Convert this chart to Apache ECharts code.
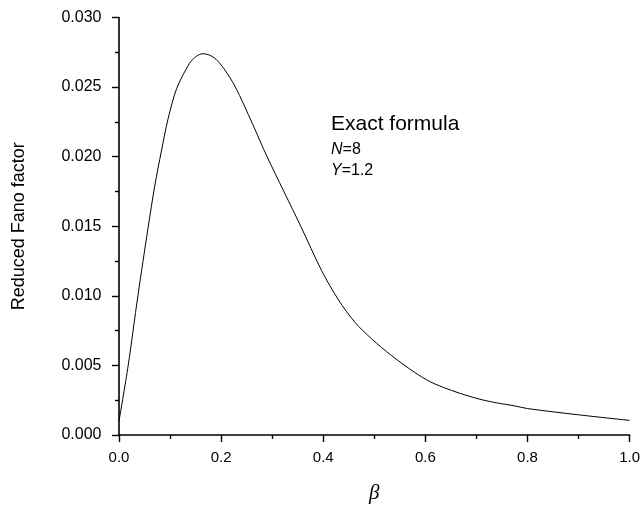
<!DOCTYPE html>
<html style="height: 100%">
<head>
    <meta charset="utf-8">
    <title>Reduced Fano factor</title>
    <script type="text/javascript" src="https://cdn.jsdelivr.net/npm/echarts@6/dist/echarts.min.js"></script>
</head>
<body style="height: 100%; margin: 0; background: #fff;">
<div id="container" style="width: 643px; height: 509px;"></div>
<script type="text/javascript">
    // beta values
    var betaData = [0, 0.018, 0.037, 0.057, 0.07, 0.083, 0.096, 0.113, 0.138, 0.151, 0.164, 0.177, 0.19,
        0.206, 0.228, 0.261, 0.290, 0.356, 0.397, 0.43, 0.462, 0.495, 0.534, 0.579, 0.611,
        0.644, 0.676, 0.709, 0.741, 0.774, 0.8, 0.9, 1.0];
    // reduced Fano factor at each beta
    var fanoData = [0.0010, 0.0050, 0.0100, 0.0149, 0.0179, 0.0204, 0.0227, 0.0249, 0.0267, 0.0272, 0.0274, 0.0273, 0.0270,
        0.0263, 0.0250, 0.0224, 0.0200, 0.0150, 0.0118, 0.0097, 0.0081, 0.0069, 0.0057, 0.0045, 0.0038,
        0.0033, 0.0029, 0.00255, 0.0023, 0.0021, 0.0019, 0.00145, 0.00105];
    var xTicks = [0, 0.2, 0.4, 0.6, 0.8, 1.0];
    var yTicks = [0, 0.005, 0.010, 0.015, 0.020, 0.025, 0.030];

    var points = [];
    for (var i = 0; i < betaData.length; i++) {
        points.push([betaData[i], fanoData[i]]);
    }

    var font = 'Liberation Sans, Arial, sans-serif';
    var myChart = echarts.init(document.getElementById('container'), null, {renderer: 'canvas'});
    var option = {
        animation: false,
        backgroundColor: '#fff',
        grid: {left: 119, right: 10, top: 17.5, bottom: 71},
        xAxis: {
            type: 'value',
            min: xTicks[0],
            max: xTicks[xTicks.length - 1],
            interval: 0.2,
            name: 'β',
            nameLocation: 'middle',
            nameGap: 48,
            nameTextStyle: {fontFamily: 'Liberation Serif', fontStyle: 'italic', fontSize: 21, color: '#000'},
            axisLine: {lineStyle: {color: '#000', width: 1.6}},
            axisTick: {length: 7, lineStyle: {color: '#000', width: 1.4}},
            minorTick: {show: true, splitNumber: 2, length: 4, lineStyle: {color: '#000', width: 1.4}},
            axisLabel: {
                margin: 15, fontSize: 15, fontFamily: font, color: '#000',
                formatter: function (v) { return v.toFixed(1); }
            },
            splitLine: {show: false}
        },
        yAxis: {
            type: 'value',
            min: yTicks[0],
            max: yTicks[yTicks.length - 1],
            interval: 0.005,
            offset: 4.5,
            name: 'Reduced Fano factor',
            nameLocation: 'middle',
            nameGap: 86,
            nameTextStyle: {fontFamily: font, fontSize: 18, color: '#000'},
            axisLine: {lineStyle: {color: '#000', width: 1.6}},
            axisTick: {length: 7, lineStyle: {color: '#000', width: 1.4}},
            minorTick: {show: true, splitNumber: 2, length: 4, lineStyle: {color: '#000', width: 1.4}},
            axisLabel: {
                margin: 13, fontSize: 16, fontFamily: font, color: '#000',
                formatter: function (v) { return v.toFixed(3); }
            },
            splitLine: {show: false}
        },
        graphic: [
            {type: 'text', left: 331, top: 114, style: {text: 'Exact formula', font: '21px ' + font, fill: '#000'}},
            {
                type: 'text', left: 331, top: 142,
                style: {
                    text: '{i|N}=8',
                    font: '16px ' + font, fill: '#000',
                    rich: {i: {fontStyle: 'italic', fontSize: 16, fontFamily: font}}
                }
            },
            {
                type: 'text', left: 331, top: 163,
                style: {
                    text: '{i|Y}=1.2',
                    font: '16px ' + font, fill: '#000',
                    rich: {i: {fontStyle: 'italic', fontSize: 16, fontFamily: font}}
                }
            }
        ],
        series: [{
            type: 'line',
            data: points,
            showSymbol: false,
            smooth: 0.3,
            lineStyle: {color: '#000', width: 1}
        }]
    };
    myChart.setOption(option);
</script>
</body>
</html>
